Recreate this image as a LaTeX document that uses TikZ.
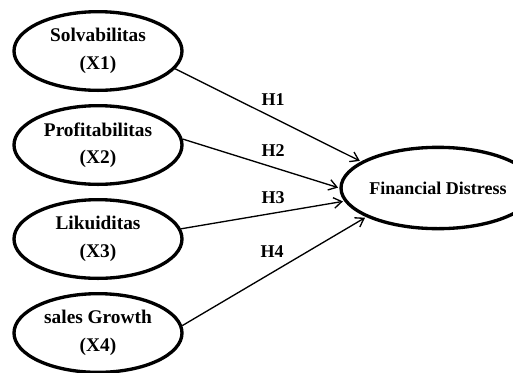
\documentclass[tikz,border=0pt]{standalone}
\usepackage{fontspec}
\setmainfont{Liberation Serif}
\usetikzlibrary{arrows.meta, positioning, shapes.geometric}

\begin{document}
\begin{tikzpicture}[
    x=0.75pt, y=-0.75pt,      % work in pixels of the original figure
    >={Straight Barb[length=6pt, width=8pt]},
    thick,
  ]

  %--- styles for variables, hypotheses and paths ---
  \tikzset{
    varStyle/.style ={ellipse, draw=black, line width=2.5pt, fill=white,
    minimum width=126pt, minimum height=59pt, inner sep=0pt, align=center,
    font=\fontsize{14.5}{20.5}\selectfont\bfseries},
    depStyle/.style ={ellipse, draw=black, line width=2.5pt, fill=white,
    minimum width=128pt, minimum height=61pt, inner sep=0pt,
    font=\fontsize{13.5}{16}\selectfont\bfseries},
    hypStyle/.style ={font=\fontsize{13.5}{16}\selectfont\bfseries},
    pathStyle/.style={->, line width=1pt, draw=black, shorten >=1pt},
  }

  \useasboundingbox (0,0) rectangle (513,372);

  %------------------------------------------------------------------------------
  % 1) Independent variables (left column)
  %------------------------------------------------------------------------------
  \node[varStyle] (X1) at (98,51) {Solvabilitas\\(X1)};
  \node[varStyle] (X2) [below=9pt of X1] {Profitabilitas\\(X2)};
  \node[varStyle] (X3) [below=9pt of X2] {Likuiditas\\(X3)};
  \node[varStyle] (X4) [below=9pt of X3] {sales Growth\\(X4)};

  %------------------------------------------------------------------------------
  % 2) Dependent variable (right)
  %------------------------------------------------------------------------------
  \node[depStyle] (FD) at (438,188) {Financial Distress};

  %------------------------------------------------------------------------------
  % 3) Hypotheses
  %------------------------------------------------------------------------------
  \node[hypStyle] (H1) at (273,100) {H1};
  \node[hypStyle] (H2) at (273,151) {H2};
  \node[hypStyle] (H3) at (273,198) {H3};
  \node[hypStyle] (H4) at (272,252) {H4};

  % paths X -> FD
  \draw[pathStyle] (X1.-13) -- (FD.161);
  \draw[pathStyle] (X2.4)   -- (FD.180);
  \draw[pathStyle] (X3.7)   -- (FD.188);
  \draw[pathStyle] (X4.5)   -- (FD.202);

\end{tikzpicture}
\end{document}
